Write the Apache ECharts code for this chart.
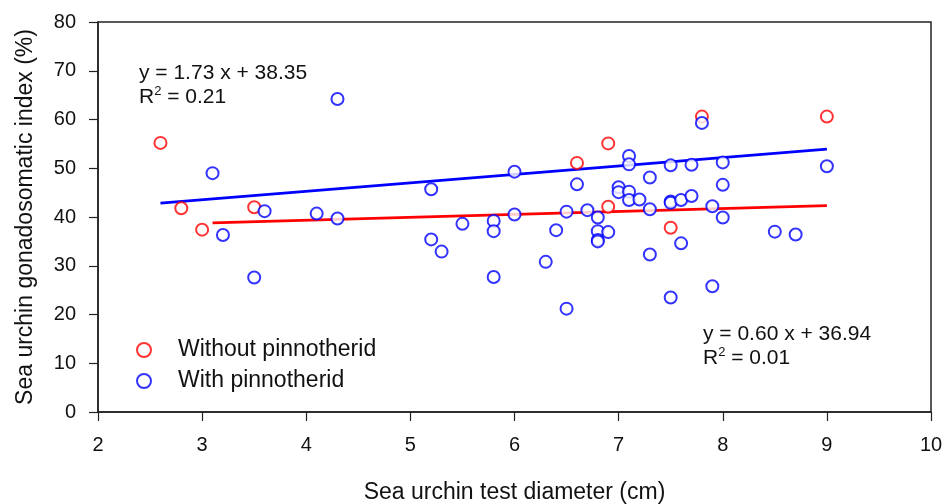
<!DOCTYPE html>
<html>
<head>
<meta charset="utf-8">
<script src="https://cdn.jsdelivr.net/npm/echarts@6/dist/echarts.min.js"></script>
<style>
  html, body { margin: 0; padding: 0; background: #fff; }
  #main { width: 946px; height: 504px; }
</style>
</head>
<body>
<div id="main"></div>
<script>
// Sea urchins without pinnotherid (red)
const withoutPoints = [
  [2.6, 55.2], [2.8, 41.8], [3.0, 37.4], [3.5, 42.0], [6.6, 51.1],
  [6.9, 55.1], [6.9, 42.1], [7.5, 37.8], [7.8, 60.6], [9.0, 60.6]
];

// Sea urchins with pinnotherid (blue)
const withPoints = [
  [3.1, 49.0], [3.2, 36.3], [3.5, 27.6], [3.6, 41.2], [4.1, 40.7],
  [4.3, 64.2], [4.3, 39.7], [5.2, 45.7], [5.2, 35.4], [5.3, 32.9],
  [5.5, 38.6], [5.8, 39.2], [5.8, 37.1], [5.8, 27.7], [6.0, 49.3],
  [6.0, 40.5], [6.3, 30.8], [6.4, 37.3], [6.5, 41.1], [6.5, 21.2],
  [6.6, 46.7], [6.7, 41.4], [6.8, 39.9], [6.8, 37.1], [6.8, 35.3],
  [6.8, 35.0], [6.9, 36.9], [7.0, 46.1], [7.0, 45.1], [7.1, 52.5],
  [7.1, 50.8], [7.1, 45.2], [7.1, 43.5], [7.2, 43.6], [7.3, 48.1],
  [7.3, 41.6], [7.3, 32.3], [7.5, 50.6], [7.5, 43.2], [7.5, 42.9],
  [7.5, 23.5], [7.6, 43.5], [7.6, 34.6], [7.7, 50.7], [7.7, 44.3],
  [7.8, 59.3], [7.9, 42.2], [7.9, 25.8], [8.0, 51.2], [8.0, 46.6],
  [8.0, 39.9], [8.5, 37.0], [8.7, 36.4], [9.0, 50.4]
];

// regression lines: [slope, intercept] and x range drawn
const blueFit = [1.73, 38.35];
const blueFitRange = [2.6, 9.0];
const redFit = [0.60, 36.94];
const redFitRange = [3.1, 9.0];

const xTicks = [2, 3, 4, 5, 6, 7, 8, 9, 10];
const yTicks = [0, 10, 20, 30, 40, 50, 60, 70, 80];

const fitLine = (fit, range) => range.map(x => [x, fit[0] * x + fit[1]]);

const FONT = 'Liberation Sans, Arial, sans-serif';
const supStyle = { sup: { fontSize: 13, verticalAlign: 'top', lineHeight: 14, padding: [0, 0, 9, 0] } };

const chart = echarts.init(document.getElementById('main'), null, { renderer: 'canvas' });

const option = {
  animation: false,
  textStyle: { fontFamily: FONT, color: '#111' },
  grid: {
    left: 98, right: 15, top: 22, bottom: 92,
    outerBoundsMode: 'none',
    show: true, borderColor: '#222', borderWidth: 1.5, backgroundColor: '#fff'
  },
  xAxis: {
    type: 'value',
    min: xTicks[0], max: xTicks[xTicks.length - 1], interval: 1,
    name: 'Sea urchin test diameter (cm)',
    nameLocation: 'middle', nameGap: 69,
    nameTextStyle: { fontSize: 23, fontFamily: FONT, color: '#111' },
    axisLine: { onZero: false, lineStyle: { color: '#222', width: 1.5 } },
    axisTick: { length: 9, lineStyle: { color: '#222', width: 1.2 } },
    axisLabel: { fontSize: 20, margin: 23, color: '#111', fontFamily: FONT },
    splitLine: { show: false }
  },
  yAxis: {
    type: 'value',
    min: yTicks[0], max: yTicks[yTicks.length - 1], interval: 10,
    name: 'Sea urchin gonadosomatic index (%)',
    nameLocation: 'middle', nameGap: 61,
    nameTextStyle: { fontSize: 23, fontFamily: FONT, color: '#111' },
    axisLine: { show: true, lineStyle: { color: '#222', width: 1.5 } },
    axisTick: { show: true, length: 9, lineStyle: { color: '#222', width: 1.2 } },
    axisLabel: { fontSize: 20, margin: 22, color: '#111', fontFamily: FONT },
    splitLine: { show: false }
  },
  legend: {
    data: ['Without pinnotherid', 'With pinnotherid'],
    orient: 'vertical',
    left: 131, top: 333,
    itemWidth: 14, itemHeight: 14, itemGap: 7,
    textStyle: { fontSize: 23, lineHeight: 24, fontFamily: FONT, color: '#111', padding: [0, 0, 0, 22] }
  },
  graphic: [
    {
      type: 'text', left: 139, top: 61,
      style: {
        text: 'y = 1.73 x + 38.35\nR{sup|2} = 0.21',
        font: '21px ' + FONT, fill: '#111', lineHeight: 24, rich: supStyle
      }
    },
    {
      type: 'text', left: 703, top: 322,
      style: {
        text: 'y = 0.60 x + 36.94\nR{sup|2} = 0.01',
        font: '21px ' + FONT, fill: '#111', lineHeight: 24, rich: supStyle
      }
    }
  ],
  series: [
    {
      name: 'blue fit', type: 'line', data: fitLine(blueFit, blueFitRange),
      symbol: 'none', lineStyle: { color: '#0000ff', width: 2.6 }, z: 1
    },
    {
      name: 'red fit', type: 'line', data: fitLine(redFit, redFitRange),
      symbol: 'none', lineStyle: { color: '#ff0000', width: 2.6 }, z: 1
    },
    {
      name: 'Without pinnotherid', type: 'scatter', data: withoutPoints,
      symbol: 'circle', symbolSize: 12,
      itemStyle: { color: '#fff', borderColor: '#ff0000', borderWidth: 2 }, z: 3
    },
    {
      name: 'With pinnotherid', type: 'scatter', data: withPoints,
      symbol: 'circle', symbolSize: 12,
      itemStyle: { color: '#fff', borderColor: '#0000ff', borderWidth: 2 }, z: 4
    }
  ]
};

chart.setOption(option);
</script>
</body>
</html>
